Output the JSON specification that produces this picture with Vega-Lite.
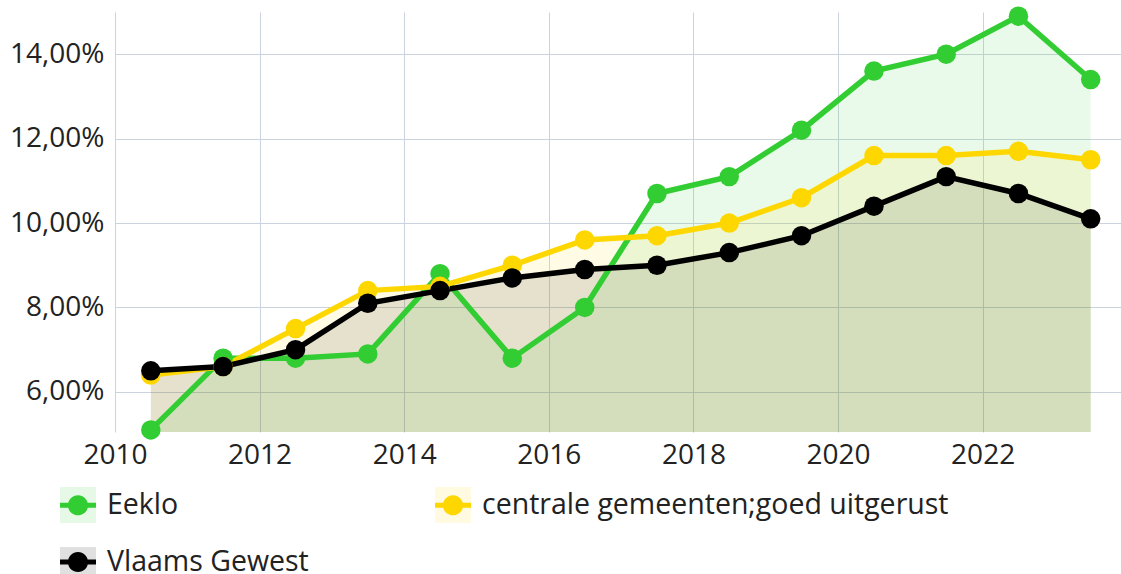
{
  "$schema": "https://vega.github.io/schema/vega-lite/v6.json",
  "width": 1006,
  "height": 420,
  "autosize": "none",
  "padding": {"left": 115, "top": 12, "right": 0, "bottom": 142},
  "background": "white",
  "config": {
    "view": {"stroke": null},
    "font": "Open Sans",
    "axis": {"labelFont": "Open Sans", "labelFontSize": 28, "labelColor": "#222222", "domain": false, "ticks": false, "gridColor": "#cbd3df", "gridWidth": 1, "title": null}
  },
  "data": {
    "values": [
      {"jaar": "2010-07-01", "serie": "Eeklo", "waarde": 5.1},
      {"jaar": "2011-07-01", "serie": "Eeklo", "waarde": 6.8},
      {"jaar": "2012-07-01", "serie": "Eeklo", "waarde": 6.8},
      {"jaar": "2013-07-01", "serie": "Eeklo", "waarde": 6.9},
      {"jaar": "2014-07-01", "serie": "Eeklo", "waarde": 8.8},
      {"jaar": "2015-07-01", "serie": "Eeklo", "waarde": 6.8},
      {"jaar": "2016-07-01", "serie": "Eeklo", "waarde": 8.0},
      {"jaar": "2017-07-01", "serie": "Eeklo", "waarde": 10.7},
      {"jaar": "2018-07-01", "serie": "Eeklo", "waarde": 11.1},
      {"jaar": "2019-07-01", "serie": "Eeklo", "waarde": 12.2},
      {"jaar": "2020-07-01", "serie": "Eeklo", "waarde": 13.6},
      {"jaar": "2021-07-01", "serie": "Eeklo", "waarde": 14.0},
      {"jaar": "2022-07-01", "serie": "Eeklo", "waarde": 14.9},
      {"jaar": "2023-07-01", "serie": "Eeklo", "waarde": 13.4},
      {"jaar": "2010-07-01", "serie": "centrale gemeenten;goed uitgerust", "waarde": 6.4},
      {"jaar": "2011-07-01", "serie": "centrale gemeenten;goed uitgerust", "waarde": 6.6},
      {"jaar": "2012-07-01", "serie": "centrale gemeenten;goed uitgerust", "waarde": 7.5},
      {"jaar": "2013-07-01", "serie": "centrale gemeenten;goed uitgerust", "waarde": 8.4},
      {"jaar": "2014-07-01", "serie": "centrale gemeenten;goed uitgerust", "waarde": 8.5},
      {"jaar": "2015-07-01", "serie": "centrale gemeenten;goed uitgerust", "waarde": 9.0},
      {"jaar": "2016-07-01", "serie": "centrale gemeenten;goed uitgerust", "waarde": 9.6},
      {"jaar": "2017-07-01", "serie": "centrale gemeenten;goed uitgerust", "waarde": 9.7},
      {"jaar": "2018-07-01", "serie": "centrale gemeenten;goed uitgerust", "waarde": 10.0},
      {"jaar": "2019-07-01", "serie": "centrale gemeenten;goed uitgerust", "waarde": 10.6},
      {"jaar": "2020-07-01", "serie": "centrale gemeenten;goed uitgerust", "waarde": 11.6},
      {"jaar": "2021-07-01", "serie": "centrale gemeenten;goed uitgerust", "waarde": 11.6},
      {"jaar": "2022-07-01", "serie": "centrale gemeenten;goed uitgerust", "waarde": 11.7},
      {"jaar": "2023-07-01", "serie": "centrale gemeenten;goed uitgerust", "waarde": 11.5},
      {"jaar": "2010-07-01", "serie": "Vlaams Gewest", "waarde": 6.5},
      {"jaar": "2011-07-01", "serie": "Vlaams Gewest", "waarde": 6.6},
      {"jaar": "2012-07-01", "serie": "Vlaams Gewest", "waarde": 7.0},
      {"jaar": "2013-07-01", "serie": "Vlaams Gewest", "waarde": 8.1},
      {"jaar": "2014-07-01", "serie": "Vlaams Gewest", "waarde": 8.4},
      {"jaar": "2015-07-01", "serie": "Vlaams Gewest", "waarde": 8.7},
      {"jaar": "2016-07-01", "serie": "Vlaams Gewest", "waarde": 8.9},
      {"jaar": "2017-07-01", "serie": "Vlaams Gewest", "waarde": 9.0},
      {"jaar": "2018-07-01", "serie": "Vlaams Gewest", "waarde": 9.3},
      {"jaar": "2019-07-01", "serie": "Vlaams Gewest", "waarde": 9.7},
      {"jaar": "2020-07-01", "serie": "Vlaams Gewest", "waarde": 10.4},
      {"jaar": "2021-07-01", "serie": "Vlaams Gewest", "waarde": 11.1},
      {"jaar": "2022-07-01", "serie": "Vlaams Gewest", "waarde": 10.7},
      {"jaar": "2023-07-01", "serie": "Vlaams Gewest", "waarde": 10.1}
    ]
  },
  "encoding": {
    "x": {
      "field": "jaar",
      "type": "temporal",
      "scale": {"domain": ["2010-01-01T00:00:00", "2023-12-01T00:00:00"]},
      "axis": {
        "values": ["2010-01-01T00:00:00", "2012-01-01T00:00:00", "2014-01-01T00:00:00", "2016-01-01T00:00:00", "2018-01-01T00:00:00", "2020-01-01T00:00:00", "2022-01-01T00:00:00"],
        "format": "%Y",
        "labelPadding": 9,
        "labelFlush": false,
        "labelOverlap": false
      }
    },
    "y": {
      "field": "waarde",
      "type": "quantitative",
      "stack": null,
      "scale": {"domain": [5.05, 15], "zero": false, "nice": false},
      "axis": {
        "values": [6, 8, 10, 12, 14],
        "labelExpr": "replace(format(datum.value, '.2f'), '.', ',') + '%'",
        "labelPadding": 11
      }
    }
  },
  "layer": [
    {
      "mark": {"type": "area", "fillOpacity": 0.1, "clip": true},
      "encoding": {
        "fill": {
          "field": "serie",
          "type": "nominal",
          "scale": {"domain": ["Eeklo", "centrale gemeenten;goed uitgerust", "Vlaams Gewest"], "range": ["#32cd32", "#ffd700", "#000000"]},
          "legend": {
            "orient": "none",
            "legendX": -55,
            "legendY": 475,
            "direction": "horizontal",
            "columns": 2,
            "title": null,
            "symbolType": "square",
            "symbolSize": 1296,
            "symbolOpacity": 0.12,
            "symbolStrokeWidth": 0,
            "labelFont": "Open Sans",
            "labelFontSize": 28.5,
            "labelOpacity": 0,
            "labelOffset": 11,
            "labelLimit": 600,
            "columnPadding": 126,
            "rowPadding": 24
          }
        }
      }
    },
    {
      "mark": {"type": "line", "strokeWidth": 5.5, "clip": true},
      "encoding": {
        "stroke": {
          "field": "serie",
          "type": "nominal",
          "scale": {"domain": ["Eeklo", "centrale gemeenten;goed uitgerust", "Vlaams Gewest"], "range": ["#32cd32", "#ffd700", "#000000"]},
          "legend": null
        }
      }
    },
    {
      "mark": {"type": "point", "filled": true, "size": 380, "opacity": 1, "strokeWidth": 0},
      "encoding": {
        "color": {
          "field": "serie",
          "type": "nominal",
          "sort": ["Eeklo", "centrale gemeenten;goed uitgerust", "Vlaams Gewest"],
          "scale": {"range": ["#32cd32", "#ffd700", "#000000"]},
          "legend": {
            "orient": "none",
            "legendX": -55,
            "legendY": 475,
            "direction": "horizontal",
            "columns": 2,
            "title": null,
            "symbolType": "M-1,-0.14H1V0.14H-1Z M0.56,0A0.56,0.56 0 1,1 -0.56,0A0.56,0.56 0 1,1 0.56,0Z",
            "symbolSize": 1296,
            "symbolStrokeWidth": 0,
            "symbolOpacity": 1,
            "labelFont": "Open Sans",
            "labelFontSize": 28.5,
            "labelColor": "#222222",
            "labelOffset": 11,
            "labelLimit": 600,
            "columnPadding": 126,
            "rowPadding": 24
          }
        }
      }
    }
  ]
}
